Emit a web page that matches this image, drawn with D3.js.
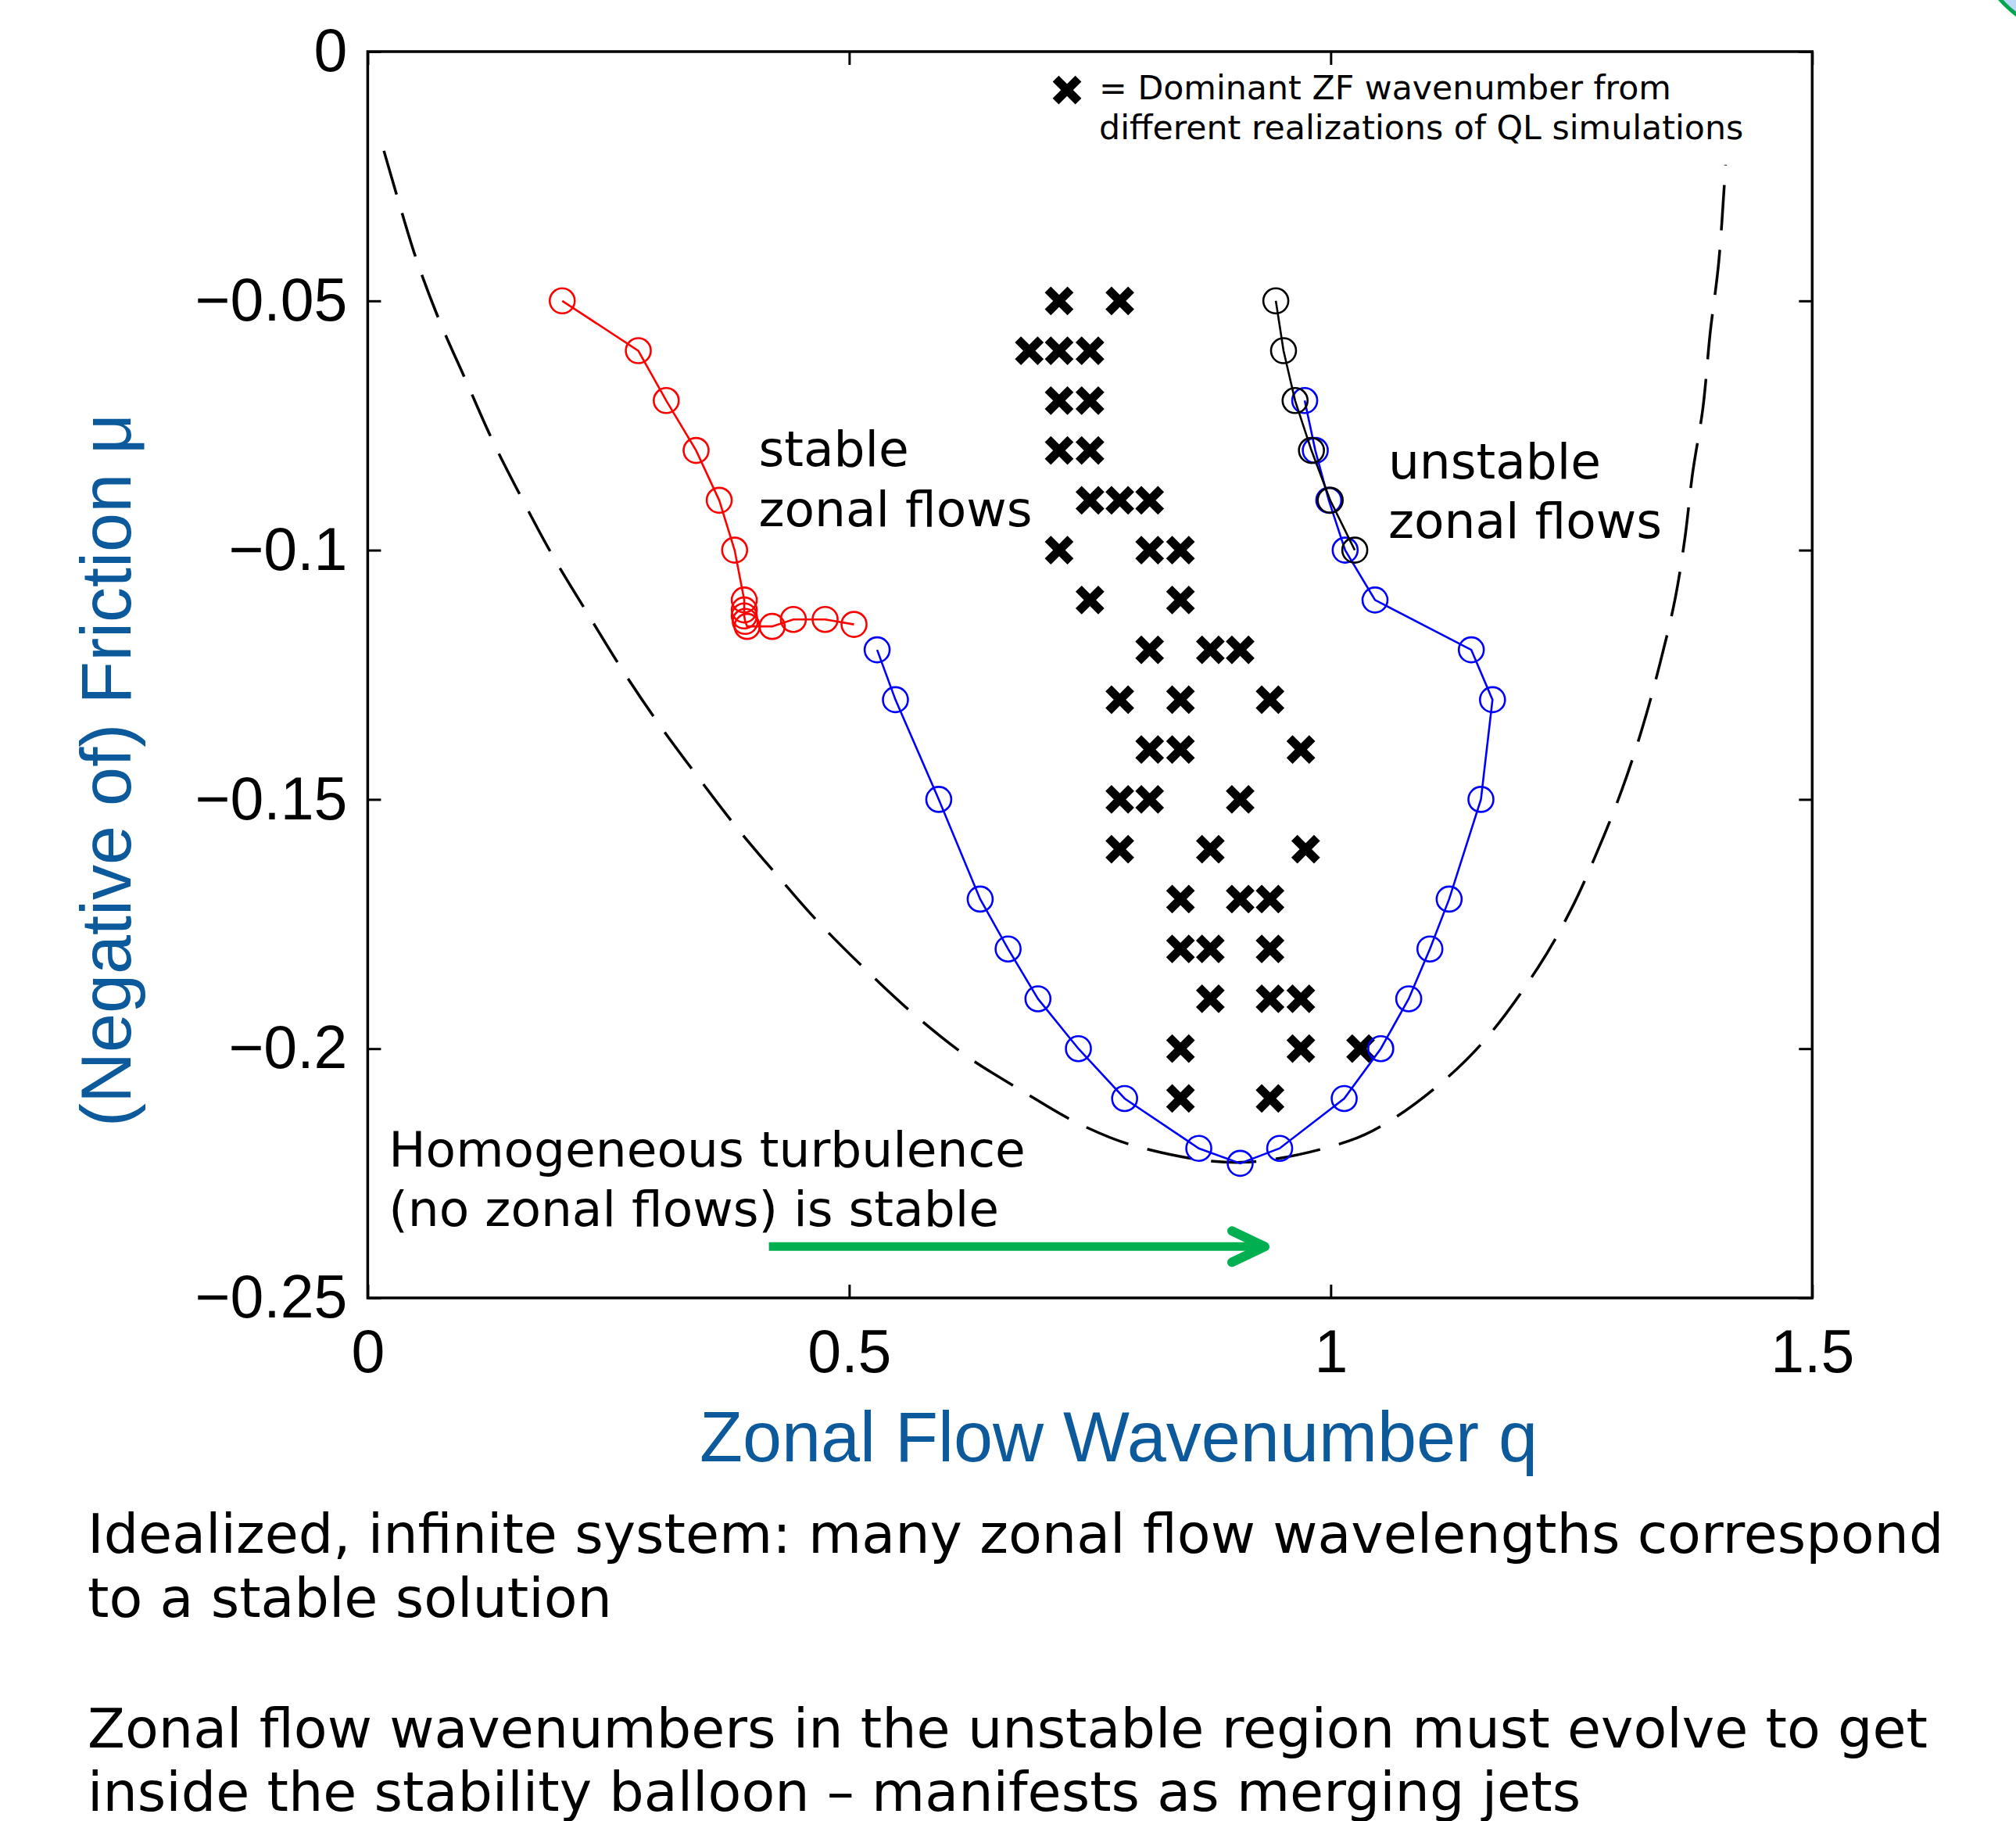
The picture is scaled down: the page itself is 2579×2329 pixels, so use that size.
<!DOCTYPE html>
<html>
<head>
<meta charset="utf-8">
<script src="https://cdn.jsdelivr.net/npm/d3@7"></script>
<style>
  body { margin: 0; background: #fff; }
  .tick text { font-family: "Liberation Sans", Arial, sans-serif; }
</style>
</head>
<body>
<svg id="chart" width="2579" height="2329"></svg>
<script>
// axis ticks
var xTicks = [0, 0.5, 1, 1.5];
var xTickLabels = ["0", "0.5", "1", "1.5"];
var yTicks = [0, -0.05, -0.1, -0.15, -0.2, -0.25];
var yTickLabels = ["0", "\u22120.05", "\u22120.1", "\u22120.15", "\u22120.2", "\u22120.25"];

// stable branch (red)
var redQ  = [0.202, 0.281, 0.310, 0.341, 0.365, 0.381, 0.391, 0.391, 0.391, 0.392, 0.394, 0.420, 0.442, 0.475, 0.505];
var redMu = [-0.05, -0.06, -0.07, -0.08, -0.09, -0.10, -0.11, -0.112, -0.1132, -0.1143, -0.1153, -0.1153, -0.1139, -0.1139, -0.1149];

// stability boundary (blue)
var blueQ  = [0.529, 0.548, 0.593, 0.636, 0.665, 0.696, 0.738, 0.786, 0.863, 0.906, 0.947, 1.014, 1.052, 1.081, 1.103, 1.123, 1.156, 1.168, 1.146, 1.046, 1.015, 0.998, 0.984, 0.973];
var blueMu = [-0.12, -0.13, -0.15, -0.17, -0.18, -0.19, -0.20, -0.21, -0.22, -0.223, -0.22, -0.21, -0.20, -0.19, -0.18, -0.17, -0.15, -0.13, -0.12, -0.11, -0.10, -0.09, -0.08, -0.07];

// unstable branch (black)
var blackQ  = [0.943, 0.951, 0.963, 0.980, 0.9995, 1.025];
var blackMu = [-0.05, -0.06, -0.07, -0.08, -0.09, -0.10];

// neutral curve (dashed)
var dashQ  = [0.0168, 0.0302, 0.0504, 0.0737, 0.102, 0.1296, 0.160, 0.1917, 0.227, 0.2627, 0.3006, 0.3406, 0.3818, 0.425, 0.4708, 0.532, 0.569, 0.622, 0.678, 0.739, 0.802, 0.907, 1.019, 1.063, 1.117, 1.163, 1.216, 1.2498, 1.2774, 1.3025, 1.324, 1.3417, 1.3575, 1.368, 1.3757, 1.3865, 1.394, 1.403, 1.41];
var dashMu = [-0.0199, -0.0288, -0.0416, -0.0536, -0.066, -0.078, -0.0896, -0.101, -0.1123, -0.1235, -0.1344, -0.1449, -0.1553, -0.1652, -0.1752, -0.1869, -0.1934, -0.2015, -0.2083, -0.2151, -0.2198, -0.2228, -0.2185, -0.2143, -0.2065, -0.1976, -0.1835, -0.172, -0.1602, -0.148, -0.1354, -0.1229, -0.1099, -0.0973, -0.0847, -0.0715, -0.0565, -0.0421, -0.0227];

// dominant ZF wavenumbers from QL runs, one row per friction value
var crossMu = [-0.05, -0.06, -0.07, -0.08, -0.09, -0.10, -0.11, -0.12, -0.13, -0.14, -0.15, -0.16, -0.17, -0.18, -0.19, -0.20, -0.21];
var crossQ = [
  [0.718, 0.781],
  [0.687, 0.718, 0.750],
  [0.718, 0.750],
  [0.718, 0.750],
  [0.750, 0.781, 0.812],
  [0.718, 0.812, 0.844],
  [0.750, 0.844],
  [0.812, 0.875, 0.906],
  [0.781, 0.844, 0.937],
  [0.812, 0.844, 0.969],
  [0.781, 0.812, 0.906],
  [0.781, 0.875, 0.974],
  [0.844, 0.906, 0.937],
  [0.844, 0.875, 0.937],
  [0.875, 0.937, 0.969],
  [0.844, 0.969, 1.031],
  [0.844, 0.937]
];

var blue = "#0c5a9c";
var svg = d3.select("#chart");
svg.append("rect").attr("width", 2579).attr("height", 2329).attr("fill", "#fff");

var x = d3.scaleLinear().domain([0, 1.5]).range([470.4, 2318.3]);
var y = d3.scaleLinear().domain([-0.25, 0]).range([1660, 66]);

function zip(a, b) { return a.map(function(d, i) { return [d, b[i]]; }); }

// axes
var gx = svg.append("g").attr("transform", "translate(0,1660)")
  .call(d3.axisBottom(x).tickValues(xTicks).tickFormat(function(d, i) { return xTickLabels[i]; })
    .tickSizeInner(-17).tickSizeOuter(0).tickPadding(40));
var gy = svg.append("g").attr("transform", "translate(470.4,0)")
  .call(d3.axisLeft(y).tickValues(yTicks).tickFormat(function(d, i) { return yTickLabels[i]; })
    .tickSizeInner(-17).tickSizeOuter(0).tickPadding(26));
var gt = svg.append("g").attr("transform", "translate(0,66)")
  .call(d3.axisTop(x).tickValues(xTicks).tickFormat("").tickSizeInner(-17).tickSizeOuter(0));
var gr = svg.append("g").attr("transform", "translate(2318.3,0)")
  .call(d3.axisRight(y).tickValues(yTicks).tickFormat("").tickSizeInner(-17).tickSizeOuter(0));

[gx, gy, gt, gr].forEach(function(g) {
  g.select(".domain").remove();
  g.selectAll(".tick line").attr("stroke", "#000").attr("stroke-width", 3);
  g.selectAll(".tick text").attr("font-size", 77).attr("fill", "#000");
});

svg.append("rect")
  .attr("x", x(0)).attr("y", y(0))
  .attr("width", x(1.5) - x(0)).attr("height", y(-0.25) - y(0))
  .attr("fill", "none").attr("stroke", "#000").attr("stroke-width", 3.5);

// dashed neutral curve
svg.append("path")
  .datum(zip(dashQ, dashMu))
  .attr("d", d3.line().x(function(d) { return x(d[0]); }).y(function(d) { return y(d[1]); }).curve(d3.curveCatmullRom))
  .attr("fill", "none").attr("stroke", "#000").attr("stroke-width", 3.5)
  .attr("stroke-dasharray", "58,25");

// crosses
var crossPath = "M-14.5,-14.5L14.5,14.5M-14.5,14.5L14.5,-14.5";
var crossData = [];
crossMu.forEach(function(m, i) { crossQ[i].forEach(function(q) { crossData.push([q, m]); }); });
svg.append("g").selectAll("path").data(crossData).enter().append("path")
  .attr("transform", function(d) { return "translate(" + x(d[0]) + "," + y(d[1]) + ")"; })
  .attr("d", crossPath)
  .attr("stroke", "#000").attr("stroke-width", 11).attr("fill", "none");

// circle-marked lines
function series(qs, ms, color) {
  var pts = zip(qs, ms);
  var g = svg.append("g");
  g.append("path").datum(pts)
    .attr("d", d3.line().x(function(d) { return x(d[0]); }).y(function(d) { return y(d[1]); }))
    .attr("fill", "none").attr("stroke", color).attr("stroke-width", 2.6);
  g.selectAll("circle").data(pts).enter().append("circle")
    .attr("cx", function(d) { return x(d[0]); })
    .attr("cy", function(d) { return y(d[1]); })
    .attr("r", 16)
    .attr("fill", "none").attr("stroke", color).attr("stroke-width", 2.6);
}
series(redQ, redMu, "#ff0000");
series(blueQ, blueMu, "#0000ff");
series(blackQ, blackMu, "#000000");

// annotations inside the plot
var sans = "'DejaVu Sans', Verdana, sans-serif";
function label(lines, q, mu, size, dy) {
  var t = svg.append("text").attr("font-family", sans).attr("font-size", size).attr("fill", "#000");
  lines.forEach(function(s, i) {
    t.append("tspan").attr("x", x(q)).attr("y", y(mu) + i * dy).text(s);
  });
}
label(["stable", "zonal flows"], 0.4059, -0.0832, 63, 76.5);
label(["unstable", "zonal flows"], 1.0597, -0.0856, 63, 76.5);
label(["Homogeneous turbulence", "(no zonal flows) is stable"], 0.0218, -0.2236, 63, 76.6);
label(["= Dominant ZF wavenumber from", "different realizations of QL simulations"], 0.7595, -0.0096, 42.7, 50.5);
svg.append("path")
  .attr("transform", "translate(" + x(0.7262) + "," + y(-0.0077) + ")")
  .attr("d", crossPath)
  .attr("stroke", "#000").attr("stroke-width", 11).attr("fill", "none");

// green arrow
var arrowQ = [0.4166, 0.9364];
var arrowMu = -0.2397;
var tipX = x(arrowQ[1]) - 6, tipY = y(arrowMu);
svg.append("line")
  .attr("x1", x(arrowQ[0])).attr("x2", tipX - 4)
  .attr("y1", tipY).attr("y2", tipY)
  .attr("stroke", "#00b050").attr("stroke-width", 11);
svg.append("path")
  .attr("d", "M" + (tipX - 42) + "," + (tipY - 20) + "L" + tipX + "," + tipY + "L" + (tipX - 42) + "," + (tipY + 20))
  .attr("fill", "none").attr("stroke", "#00b050").attr("stroke-width", 12)
  .attr("stroke-linecap", "round").attr("stroke-linejoin", "round");

// axis titles
svg.append("text")
  .attr("x", 1431).attr("y", 1869)
  .attr("text-anchor", "middle")
  .attr("font-family", "'Liberation Sans', Arial, sans-serif").attr("font-size", 90)
  .attr("fill", blue).text("Zonal Flow Wavenumber q");
svg.append("text")
  .attr("transform", "translate(167,985) rotate(-90)")
  .attr("text-anchor", "middle")
  .attr("font-family", "'Liberation Sans', Arial, sans-serif").attr("font-size", 90)
  .attr("fill", blue).text("(Negative of) Friction \u03bc");

// slide text below
var notes = [
  "Idealized, infinite system: many zonal flow wavelengths correspond",
  "to a stable solution",
  "Zonal flow wavenumbers in the unstable region must evolve to get",
  "inside the stability balloon \u2013 manifests as merging jets"
];
var noteY = [1986, 2068, 2235, 2316];
svg.append("g").selectAll("text").data(notes).enter().append("text")
  .attr("x", 112).attr("y", function(d, i) { return noteY[i]; })
  .attr("font-family", sans).attr("font-size", 70).attr("fill", "#000")
  .text(function(d) { return d; });

// slide decoration in the corner
svg.append("circle")
  .attr("cx", 2665).attr("cy", -95).attr("r", 142)
  .attr("fill", "#bcd8f6").attr("stroke", "#00a651").attr("stroke-width", 5);
</script>
</body>
</html>
